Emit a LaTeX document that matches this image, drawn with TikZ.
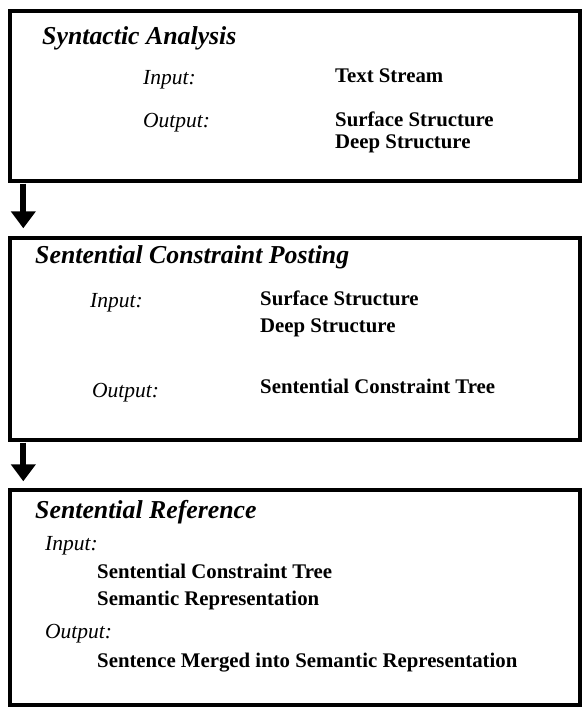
\documentclass[tikz,border=0pt]{standalone}
\usepackage{fontspec}
\setmainfont{Liberation Serif}
\usetikzlibrary{positioning,arrows.meta}

\begin{document}
\begin{tikzpicture}[x=1pt,y=-1pt,
    stage/.style={rectangle,draw,line width=3.4pt,minimum width=570pt,inner sep=0pt},
    title/.style={anchor=base west,inner sep=0pt,font=\fontsize{25.8}{29}\selectfont\bfseries\itshape},
    lbl/.style={anchor=base west,inner sep=0pt,font=\fontsize{21.5}{25}\selectfont\itshape},
    val/.style={anchor=base west,inner sep=0pt,font=\fontsize{20.8}{24}\selectfont\bfseries},
    flow/.style={line width=6pt,-{Triangle[width=24pt,length=17pt]}}
]
    \useasboundingbox (0,0) rectangle (583,708);

    \node[stage,minimum height=170pt] (syn) at (295,96) {};
    \node[stage,minimum height=202pt] (scp) at (295,339) {};
    \node[stage,minimum height=215pt] (ref) at (295,597.5) {};

    % syntactic analysis
    \node[title] (syntitle) at (42,45) {Syntactic Analysis};
    \node[lbl] (synin) at (143,85) {Input:};
    \node[val] (synstream) at (335,83) {Text Stream};
    \node[lbl] (synout) at (143,128) {Output:};
    \node[val] (synsurf) at (335,127) {Surface Structure};
    \node[val] (syndeep) at (335,149) {Deep Structure};

    % sentential constraint posting
    \node[title] (scptitle) at (35,263) {Sentential Constraint Posting};
    \node[lbl] (scpin) at (90,307) {Input:};
    \node[val] (scpsurf) at (260,305) {Surface Structure};
    \node[val] (scpdeep) at (260,332) {Deep Structure};
    \node[lbl] (scpout) at (92,397) {Output:};
    \node[val] (scptree) at (260,393) {Sentential Constraint Tree};

    % sentential reference
    \node[title] (reftitle) at (35,518) {Sentential Reference};
    \node[lbl] (refin) at (45,550) {Input:};
    \node[val] (reftree) at (97,578) {Sentential Constraint Tree};
    \node[val] (refsem) at (97,605) {Semantic Representation};
    \node[lbl] (refout) at (45,638) {Output:};
    \node[val] (refmerge) at (97,667) {Sentence Merged into Semantic Representation};

    \draw[flow] ([xshift=15pt,yshift=-1pt]syn.south west) -- ([xshift=15pt,yshift=8pt]scp.north west);
    \draw[flow] ([xshift=15pt,yshift=-1pt]scp.south west) -- ([xshift=15pt,yshift=7pt]ref.north west);
\end{tikzpicture}
\end{document}
